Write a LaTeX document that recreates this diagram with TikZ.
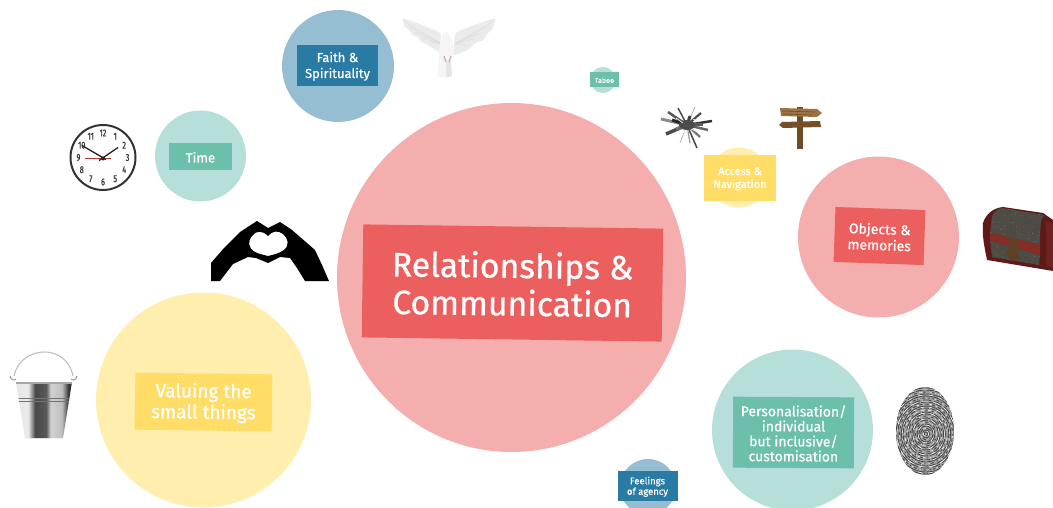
\documentclass[tikz,border=0pt]{standalone}
\usepackage{fontspec}
\setmainfont[FakeBold=0.6]{Fira Sans}
\usetikzlibrary{calc}
\definecolor{pinkC}{HTML}{F5AEAE}\definecolor{pinkL}{HTML}{EC5F5F}
\definecolor{tealC}{HTML}{B5DFD8}\definecolor{tealL}{HTML}{6CBFAB}
\definecolor{blueC}{HTML}{96BED2}\definecolor{blueL}{HTML}{2A7BA4}
\definecolor{yelC}{HTML}{FFEEAE}\definecolor{yelL}{HTML}{FFDD66}
\definecolor{wood}{HTML}{6F4A24}\definecolor{woodL}{HTML}{9A7442}
\definecolor{chestR}{HTML}{5E1A18}\definecolor{chestB}{HTML}{8A2C26}\definecolor{chestG}{HTML}{4E4A44}
\pgfdeclarehorizontalshading{silver}{100bp}{
 color(0bp)=(black!55); color(14bp)=(black!12); color(36bp)=(black!8); color(42bp)=(black!72);
 color(52bp)=(black!65); color(56bp)=(black!18); color(66bp)=(black!25); color(72bp)=(black!80); color(84bp)=(black!85); color(90bp)=(black!35); color(100bp)=(black!60)}
\tikzset{
 disc/.style={circle,inner sep=0pt,minimum size=#1,draw=none},
 lab/.style={align=center,text=white,inner sep=0pt,yshift=-.8pt,font=\fontsize{#1}{#1}\selectfont},
 feather/.style={draw=black!15,line width=.35pt},
 keyl/.style={line width=#1,line cap=butt},
}
\newcommand{\labbox}[9]{%
 \node[fill=#7,minimum width=#4pt,minimum height=#5pt,rotate=#6,inner sep=0pt] (#1) at (#2,#3) {};
 \node[lab=#8,rotate=#6] (#1t) at (#1) {#9};}
\begin{document}
\begin{tikzpicture}[x=1pt,y=-1pt]
\useasboundingbox (0,0) rectangle (1053,508);
\clip (0,0) rectangle (1053,508);
\pgfmathsetseed{7}
% discs
\node[disc=349pt,fill=pinkC] (relC) at (511.5,277.5) {};
\node[disc=112pt,fill=blueC] (faiC) at (338,66) {};
\node[disc=91pt,fill=tealC] (timC) at (200.5,156) {};
\node[disc=215pt,fill=yelC] (valC) at (203.5,400) {};
\node[disc=161pt,fill=pinkC] (objC) at (878.5,237) {};
\node[disc=161pt,fill=tealC] (perC) at (792.5,430) {};
\node[disc=56pt,fill=blueC] (feeC) at (648,487) {};
\node[disc=26pt,fill=tealC] (tabC) at (603,80) {};
\node[disc=60pt,fill=yelC] (accC) at (739,177.5) {};
% labels
\labbox{rel}{512.5}{283}{300}{113}{-0.8}{pinkL}{33.7}{Relationships \&\\[4pt]Communication}
\labbox{fai}{337.5}{65.5}{81}{41}{0}{blueL}{13}{Faith \&\\[3pt]Spirituality}
\labbox{tim}{200.5}{156.5}{63}{27}{0}{tealL}{13.5}{Time}
\labbox{val}{203.5}{402}{137}{57}{-0.7}{yelL}{19}{Valuing the\\[2pt]small things}
\labbox{obj}{879.5}{236}{90}{55}{-2}{pinkL}{14}{Objects \&\\[2pt]memories}
\labbox{per}{793.5}{432.5}{121}{71}{-0.3}{tealL}{14}{Personalisation/\\[1pt]individual\\[1pt]but inclusive/\\[1pt]customisation}
\labbox{fee}{647.5}{486}{60}{30}{0}{blueL}{9.5}{Feelings\\[1pt]of agency}
\labbox{tab}{604.5}{79.5}{29}{15}{0}{tealL}{7}{Taboo}
\labbox{acc}{740}{178}{72}{46}{0}{yelL}{11}{Access \&\\[2pt]Navigation}
% clock
\node[disc=65pt,draw=black!80,line width=2pt,fill=white] (clock) at (103,157.5) {};
\foreach \n/\a in {12/90,1/60,2/30,3/0,4/-30,5/-60,6/-90,7/-120,8/-150,9/180,10/150,11/120}
  \node[inner sep=0pt,xscale=.72,font=\fontsize{10}{10}\selectfont,text=black!80] (h\n) at ($(clock)+({24.5*cos(\a)},{-24.5*sin(\a)})$) {\n};
\draw[line width=1.3pt,black!88] ($(clock)+(3,2)$) -- ($(clock)+(-21,-12)$);
\draw[line width=1.3pt,black!88] ($(clock)+(-4,3)$) -- ($(clock)+(15,-10)$);
\draw[line width=.5pt,red!65!black!80] ($(clock)+(-18,.5)$) -- ($(clock)+(8,.5)$);
\fill[black!85] ($(clock)+(0,1)$) circle (2pt);
% heart hands
\fill[black,even odd rule] (211,281) -- (211,263) -- (224,248) -- (240,232) -- (257,221) -- (268,228) -- (280,222) -- (292,230) -- (315,250) -- (322,265) -- (329,281) -- (305,281) -- (297,268) -- (290,258) -- (280,257) -- (268,263) -- (256,258) -- (248,257) -- (233,264) -- (220,281) -- cycle
 (268,236) .. controls (262,230) and (256,231) .. (253,235) .. controls (247,241) and (248,248) .. (255,252) .. controls (259,254) and (264,255) .. (268,256) .. controls (273,255) and (280,253) .. (284,250) .. controls (290,245) and (288,238) .. (283,234) .. controls (278,230) and (272,231) .. (268,236) -- cycle;
% dove
\fill[black!8,rounded corners=2pt] (441,33) .. controls (428,27) and (415,22) .. (402,18) -- (405,28) -- (409,29) -- (412,36) -- (417,36) -- (421,42) -- (428,45) -- (440,53) -- cycle;
\fill[black!8,rounded corners=2pt] (455,33) .. controls (468,27) and (482,22) .. (496,18) -- (492,31) -- (488,32) -- (483,41) -- (476,42) -- (468,50) -- (453,56) -- cycle;
\foreach \x/\y in {405/22,409/27,414/32,420/37,428/42}
  \draw[feather] (442,44) -- (\x,\y);
\foreach \x/\y in {492/22,487/27,481/33,474/39,466/45}
  \draw[feather] (455,44) -- (\x,\y);
\fill[black!4] (442,37) .. controls (441,33) and (447,31) .. (449,34) .. controls (453,40) and (455,50) .. (451,60) -- (452,76) .. controls (447,78) and (442,78) .. (437,76) -- (439,60) .. controls (438,50) and (440,44) .. (442,37) -- cycle;
\fill[black!10] (446,62) -- (451,60) -- (452,76) .. controls (450,77) and (448,77) .. (446,77) -- cycle;
\draw[red!35!black!30,line width=1.3pt] (444,56) -- (446,62) (451,56) -- (449,62);
% signpost
\fill[wood] (797,107) rectangle (803,149.5);
\fill[woodL] (780,108) -- (817,109) -- (822,113) -- (817,117) -- (781,116) -- cycle;
\fill[wood!85!woodL] (782,122) -- (820,121) -- (821,127) -- (783,128) -- (779,125) -- cycle;
\draw[wood,line width=.6pt] (782,111) -- (815,112) (783,114) -- (812,115) (785,125) -- (817,124);
% keys
\foreach \x/\y/\w/\c in {661/119/3/45,668/112/2.5/65,678/108/1.5/70,695/107/.7/35,701/113/2.2/70,712/121/2.5/80,708/130/2.5/60,700/137/2.2/55,697/148/1.6/70,690/143/1.2/40,680/143/.8/30,666/134/3.5/70,676/129/3/55,672/120/3/85,690/116/3/75,703/125/3/65}
  \draw[keyl=\w pt,black!\c] (687,125) -- (\x,\y);
\fill[black!70] (687,125) ellipse (8pt and 5pt);
\draw[white,line width=.6pt] (676,118) -- (683,123) (691,129) -- (700,133) (680,135) -- (686,130) (693,119) -- (699,122);
% chest
\fill[chestR] (983,223) .. controls (986,214) and (993,208) .. (1003,207) -- (1043,213) -- (1053,220) -- (1053,271) -- (1047,270) -- (987,260) .. controls (984,245) and (982,235) .. (983,223) -- cycle;
\fill[chestG] (990,233) -- (992,216) .. controls (994,211) and (999,208) .. (1003,208) -- (1044,215) .. controls (1041,219) and (1040,224) .. (1040,245) -- cycle;
\fill[chestG] (990,240) -- (1040,255) -- (1039,265) -- (992,257) -- cycle;
\begin{scope}
\clip (990,233) -- (992,216) .. controls (994,211) and (999,208) .. (1003,208) -- (1044,215) .. controls (1041,219) and (1040,224) .. (1040,245) -- cycle
 (990,240) -- (1040,255) -- (1039,265) -- (992,257) -- cycle;
\foreach \i in {1,...,260}{
  \pgfmathtruncatemacro\cc{random(0,1)*30+45}
  \pgfmathsetmacro\px{988+rnd*56}
  \pgfmathsetmacro\py{206+rnd*60}
  \fill[black!\cc] (\px,\py) circle (.3pt);}
\end{scope}
\fill[chestB] (990,233) -- (1040,245) -- (1040,255) -- (990,240) -- cycle;
\fill[chestB!80!black] (1046,221) -- (1053,224) -- (1053,268) -- (1046,265) -- cycle;
\fill[black!50!brown] (1006,236) -- (1016,239) -- (1020,245) -- (1016,250) -- (1019,258) -- (1012,260) -- (1006,254) -- (1010,247) -- cycle;
% fingerprint
\begin{scope}
\clip (925,431) ellipse (29pt and 44pt);
\fill[black!35] (890,380) rectangle (960,480);
\foreach \r in {2,4,...,70}{
  \pgfmathsetmacro\da{3+rnd*9}\pgfmathsetmacro\db{.5+rnd*2.5}
  \draw[black!72,line width=.9pt,dash pattern=on \da pt off \db pt] (926,434) ellipse ({\r*.88pt} and {\r pt});}
\foreach \r in {3,6,...,70}{
  \pgfmathsetmacro\da{2+rnd*5}\pgfmathsetmacro\db{2+rnd*5}
  \draw[white,line width=.5pt,dash pattern=on \da pt off \db pt] (926,434) ellipse ({\r*.88pt} and {\r pt});}
\end{scope}
% bucket
\draw[black!25,line width=1.1pt] (14,376) .. controls (20,346) and (66,342) .. (73,376);
\draw[black!40,line width=1pt] (10,376) .. controls (11,380) and (14,381) .. (16,379) (77,376) .. controls (76,380) and (73,381) .. (71,379);
\begin{scope}
\clip (16,382) -- (72,382) -- (63,438) -- (25,438) -- cycle;
\shade[shading=silver] (16,381) rectangle (72,439);
\draw[black!55,line width=.5pt] (16,398) -- (72,398) (16,401) -- (72,401);
\draw[black!35,line width=1.6pt] (16,383) -- (72,383);
\draw[black!30,line width=1pt] (20,438) -- (68,438);
\end{scope}
\end{tikzpicture}
\end{document}
